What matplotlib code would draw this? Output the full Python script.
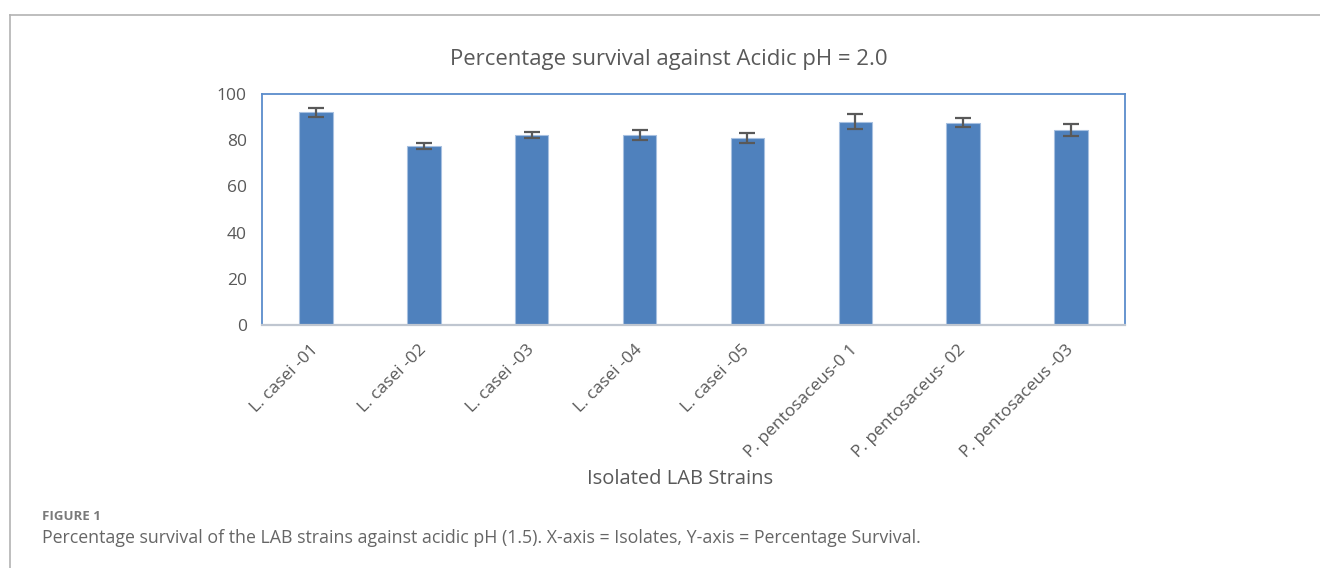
import matplotlib.pyplot as plt
import matplotlib.transforms as mtransforms
from matplotlib.lines import Line2D
import numpy as np

strains = ["L. casei -01", "L. casei -02", "L. casei -03", "L. casei -04",
           "L. casei -05", "P. pentosaceus-0 1", "P. pentosaceus- 02",
           "P. pentosaceus -03"]
survival = [92.1, 77.3, 82.3, 82.3, 80.8, 88.0, 87.6, 84.4]
errors = [1.9, 1.3, 1.3, 2.2, 2.2, 3.2, 2.0, 2.6]
yticks = [0, 20, 40, 60, 80, 100]

W, H = 1320, 568
fig = plt.figure(figsize=(W / 100, H / 100), dpi=100)
fig.patch.set_facecolor("white")

# outer frame (top and left only)
fig.add_artist(Line2D([10 / W, 1], [1 - 15 / H, 1 - 15 / H], color="#b3b3b3", lw=1.2))
fig.add_artist(Line2D([10 / W, 10 / W], [0, 1 - 15 / H], color="#b3b3b3", lw=1.2))

ax = fig.add_axes([262 / W, 1 - 325 / H, (1125 - 262) / W, (325 - 94) / H])
x = np.arange(len(strains))
ax.bar(x, survival, width=0.31, color="#4f81bd", edgecolor="#a7c0e0", linewidth=0.8,
       zorder=2)
ax.errorbar(x, survival, yerr=errors, fmt="none", ecolor="#595959", elinewidth=1.6,
            capsize=6, capthick=1.6, zorder=3)

ax.set_xlim(-0.5, len(strains) - 0.5)
ax.set_ylim(0, 100)
ax.set_yticks(yticks)
ax.tick_params(axis="both", length=0, colors="#595959", labelsize=12.5)
ax.tick_params(axis="y", pad=11)
for s in ["left", "top", "right"]:
    ax.spines[s].set_color("#5b8ccc")
    ax.spines[s].set_linewidth(1.3)
ax.spines["bottom"].set_color("#bfc6d0")
ax.spines["bottom"].set_linewidth(1.6)

ax.set_xticks(x)
ax.set_xticklabels(strains, rotation=45, ha="right", va="center",
                   rotation_mode="anchor", fontsize=12.5, color="#595959")
shift = mtransforms.ScaledTranslation(5 / 100, 0, fig.dpi_scale_trans)
for lab in ax.get_xticklabels():
    lab.set_fontfamily("Open Sans")
    lab.set_transform(lab.get_transform() + shift)
for lab in ax.get_yticklabels():
    lab.set_fontfamily("Open Sans")
ax.tick_params(axis="x", pad=16)

fig.text(669 / W, 1 - 59 / H, "Percentage survival against Acidic pH = 2.0",
         ha="center", va="center", fontsize=15.9, color="#595959", family="Open Sans")
fig.text(680 / W, 1 - 479 / H, "Isolated LAB Strains", ha="center", va="center",
         fontsize=14.5, color="#595959", family="Open Sans")

fig.text(42 / W, 1 - 516 / H, "FIGURE 1", ha="left", va="center", fontsize=9.5,
         fontweight="bold", color="#7a7a7a", family="Open Sans")
fig.text(42 / W, 1 - 538 / H,
         "Percentage survival of the LAB strains against acidic pH (1.5). X-axis = Isolates, Y-axis = Percentage Survival.",
         ha="left", va="center", fontsize=12.8, color="#666666", family="Open Sans")

fig.savefig("out.png", dpi=100)
